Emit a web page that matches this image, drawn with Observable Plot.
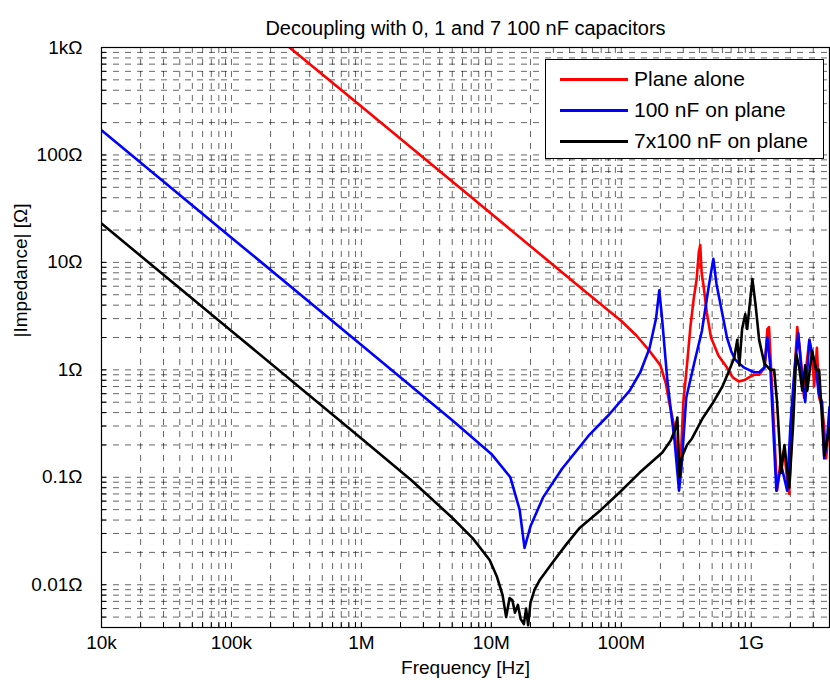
<!DOCTYPE html>
<html><head><meta charset="utf-8">
<script src="https://cdn.jsdelivr.net/npm/d3@7"></script>
<script src="https://cdn.jsdelivr.net/npm/@observablehq/plot@0.6"></script>
<style>
body{margin:0;background:#fff;font-family:"Liberation Sans",Arial,Helvetica,sans-serif;}
#wrap{position:relative;width:830px;height:684px;}
#legend{position:absolute;left:545px;top:59px;width:279px;height:100px;border:1px solid #000;background:#fff;box-sizing:border-box;}
.row{position:absolute;left:0;height:30px;width:100%;}
.sw{position:absolute;left:14px;width:68px;height:3px;top:14px;}
.lb{position:absolute;left:88px;top:2px;font-size:21px;line-height:26px;color:#000;white-space:nowrap;}
</style></head><body><div id="wrap"></div>
<script>
const titleText = "Decoupling with 0, 1 and 7 100 nF capacitors";
const xLabel = "Frequency [Hz]";
const yLabel = "|Impedance| [Ω]";
const xTickValues = [1e4, 1e5, 1e6, 1e7, 1e8, 1e9];
const xTickLabels = ["10k", "100k", "1M", "10M", "100M", "1G"];
const yTickValues = [0.01, 0.1, 1, 10, 100, 1000];
const yTickLabels = ["0.01Ω", "0.1Ω", "1Ω", "10Ω", "100Ω", "1kΩ"];
const seriesNames = ["Plane alone", "100 nF on plane", "7x100 nF on plane"];
const seriesColors = ["#ff0000", "#0000ff", "#000000"];

// Plane alone
const planeF = [2.8e5, 1e6, 1e7, 5e7, 1e8, 1.3e8, 1.65e8, 2e8, 2.2e8, 2.35e8, 2.55e8, 2.7e8, 2.8e8, 2.86e8, 3.0e8, 3.2e8, 3.4e8, 3.6e8, 3.8e8, 3.95e8, 4.05e8, 4.15e8, 4.3e8, 4.55e8, 4.9e8, 5.6e8, 6.5e8, 7.2e8, 8.0e8, 8.8e8, 9.6e8, 1.05e9, 1.15e9, 1.27e9, 1.33e9, 1.37e9, 1.42e9, 1.47e9, 1.58e9, 1.68e9, 1.79e9, 1.88e9, 1.96e9, 2.05e9, 2.15e9, 2.26e9, 2.4e9, 2.55e9, 2.68e9, 2.8e9, 2.95e9, 3.05e9, 3.2e9, 3.33e9, 3.5e9, 3.64e9, 3.77e9, 4e9];
const planeZ = [1000, 283, 28.3, 5.66, 2.85, 2.1, 1.5, 1.1, 0.75, 0.48, 0.3, 0.15, 0.09, 0.14, 0.5, 1.1, 2.5, 4.5, 7, 12.5, 14.5, 8, 6, 3.4, 2.0, 1.35, 1.05, 0.85, 0.78, 0.8, 0.85, 0.9, 0.9, 1.05, 2.4, 2.5, 1.05, 0.45, 0.075, 0.14, 0.18, 0.1, 0.07, 0.25, 0.9, 2.5, 1.3, 0.55, 1.2, 1.9, 1.3, 0.7, 1.6, 0.55, 0.45, 0.3, 0.15, 0.35];

// 100 nF on plane
const oneCapF = [1e4, 1e5, 1e6, 5e6, 1e7, 1.4e7, 1.65e7, 1.8e7, 2.0e7, 2.5e7, 3.5e7, 5.7e7, 8e7, 1.16e8, 1.4e8, 1.65e8, 1.85e8, 1.96e8, 2.05e8, 2.26e8, 2.45e8, 2.57e8, 2.78e8, 2.9e8, 3.16e8, 3.63e8, 4.17e8, 4.74e8, 5.11e8, 5.4e8, 6.0e8, 6.5e8, 7.0e8, 7.5e8, 8.1e8, 8.8e8, 9.6e8, 1.05e9, 1.15e9, 1.26e9, 1.33e9, 1.4e9, 1.45e9, 1.56e9, 1.7e9, 1.89e9, 2.0e9, 2.15e9, 2.3e9, 2.45e9, 2.6e9, 2.8e9, 2.95e9, 3.16e9, 3.3e9, 3.51e9, 3.64e9, 3.8e9, 4e9];
const oneCapZ = [170, 17, 1.7, 0.34, 0.165, 0.1, 0.05, 0.022, 0.035, 0.065, 0.12, 0.25, 0.38, 0.64, 0.95, 1.6, 3.0, 5.5, 3.2, 0.8, 0.35, 0.22, 0.075, 0.12, 0.55, 1.14, 2.3, 6.3, 10.8, 6.3, 3.3, 2.0, 1.5, 1.25, 1.14, 1.05, 1.0, 0.95, 0.95, 1.05, 2.0, 1.1, 0.45, 0.075, 0.13, 0.075, 0.3, 1.0, 2.2, 0.9, 0.5, 1.9, 1.4, 1.0, 0.6, 0.5, 0.15, 0.2, 0.45];

// 7x100 nF on plane
const sevenCapF = [1e4, 1e5, 1e6, 2.4e6, 5e6, 7.2e6, 9.7e6, 1.1e7, 1.22e7, 1.3e7, 1.38e7, 1.45e7, 1.52e7, 1.6e7, 1.68e7, 1.78e7, 1.85e7, 1.92e7, 2.0e7, 2.15e7, 2.35e7, 2.95e7, 3.8e7, 4.8e7, 7e7, 1e8, 1.38e8, 2.07e8, 2.4e8, 2.6e8, 2.7e8, 2.75e8, 2.8e8, 2.9e8, 3.2e8, 3.5e8, 4.2e8, 5e8, 6e8, 6.8e8, 7.4e8, 7.8e8, 8.1e8, 8.5e8, 9.0e8, 9.3e8, 1.02e9, 1.08e9, 1.15e9, 1.26e9, 1.4e9, 1.5e9, 1.58e9, 1.7e9, 1.8e9, 1.96e9, 2.1e9, 2.22e9, 2.34e9, 2.47e9, 2.6e9, 2.7e9, 2.94e9, 3.16e9, 3.33e9, 3.64e9, 4e9];
const sevenCapZ = [23, 2.3, 0.23, 0.095, 0.042, 0.027, 0.017, 0.012, 0.008, 0.005, 0.0075, 0.0072, 0.0055, 0.0065, 0.0048, 0.0043, 0.006, 0.0042, 0.0068, 0.009, 0.011, 0.016, 0.024, 0.034, 0.05, 0.075, 0.11, 0.17, 0.22, 0.28, 0.36, 0.2, 0.1, 0.15, 0.2, 0.23, 0.35, 0.48, 0.7, 1.0, 1.3, 1.9, 1.1, 2.4, 3.3, 2.4, 7, 4, 1.9, 1.15, 1.0, 1.0, 0.5, 0.11, 0.2, 0.08, 0.31, 1.4, 1.05, 0.64, 1.1, 0.64, 1.5, 1.0, 1.0, 0.16, 0.29];

const seriesF = [planeF, oneCapF, sevenCapF];
const seriesZ = [planeZ, oneCapZ, sevenCapZ];
const rows = seriesNames.flatMap((name, s) => seriesF[s].map((f, i) => ({series: name, f, z: seriesZ[s][i]})));

// grid at 1..9 x each decade
const xDomain = [1e4, 4e9], yDomain = [0.004, 1000];
const gridX = [], gridY = [];
for (let e = 4; e <= 9; e++) for (let m = 1; m <= 9; m++) { const v = m * 10 ** e; if (v >= xDomain[0] && v <= xDomain[1]) gridX.push(v); }
for (let e = -3; e <= 3; e++) for (let m = 1; m <= 9; m++) { const v = +(m * 10 ** e).toPrecision(3); if (v >= yDomain[0] && v <= yDomain[1]) gridY.push(v); }

const font = "Liberation Sans, Arial, Helvetica, sans-serif";
const gridStyle = {stroke: "#000", strokeOpacity: 0.6, strokeDasharray: "6,6", strokeWidth: 1};

const chart = Plot.plot({
  width: 830, height: 684,
  marginLeft: 101, marginRight: 1, marginTop: 47, marginBottom: 57,
  style: {fontFamily: font, background: "#fff", color: "#000"},
  x: {type: "log", domain: xDomain},
  y: {type: "log", domain: yDomain},
  color: {domain: seriesNames, range: seriesColors},
  marks: [
    Plot.ruleX(gridX, gridStyle),
    Plot.ruleY(gridY, gridStyle),
    Plot.line(rows, {x: "f", y: "z", z: "series", stroke: "series", strokeWidth: 2.6, clip: true}),
    Plot.frame({stroke: "#000", strokeWidth: 1.2}),
    Plot.axisX(gridX, {tickSize: -5, tickFormat: () => "", label: null}),
    Plot.axisY(gridY, {tickSize: -5, tickFormat: () => "", label: null}),
    Plot.axisX(xTickValues, {tickSize: 0, tickPadding: 8, fontSize: 19, tickFormat: d => xTickLabels[xTickValues.indexOf(d)], label: null}),
    Plot.axisY(yTickValues, {tickSize: 0, tickPadding: 19, fontSize: 19, tickFormat: d => yTickLabels[yTickValues.indexOf(d)], label: null}),
    Plot.text([titleText], {frameAnchor: "top", dy: -27, fontSize: 20}),
    Plot.text([xLabel], {frameAnchor: "bottom", dy: 46, fontSize: 19}),
    Plot.text([yLabel], {frameAnchor: "left", dx: -81, rotate: -90, fontSize: 19})
  ]
});
const wrap = document.getElementById("wrap");
wrap.appendChild(chart);

const legend = document.createElement("div");
legend.id = "legend";
seriesNames.forEach((name, i) => {
  const row = document.createElement("div");
  row.className = "row";
  row.style.top = (4 + i * 31) + "px";
  const sw = document.createElement("div");
  sw.className = "sw";
  sw.style.background = seriesColors[i];
  const lb = document.createElement("div");
  lb.className = "lb";
  lb.textContent = name;
  row.appendChild(sw); row.appendChild(lb);
  legend.appendChild(row);
});
wrap.appendChild(legend);
</script></body></html>
